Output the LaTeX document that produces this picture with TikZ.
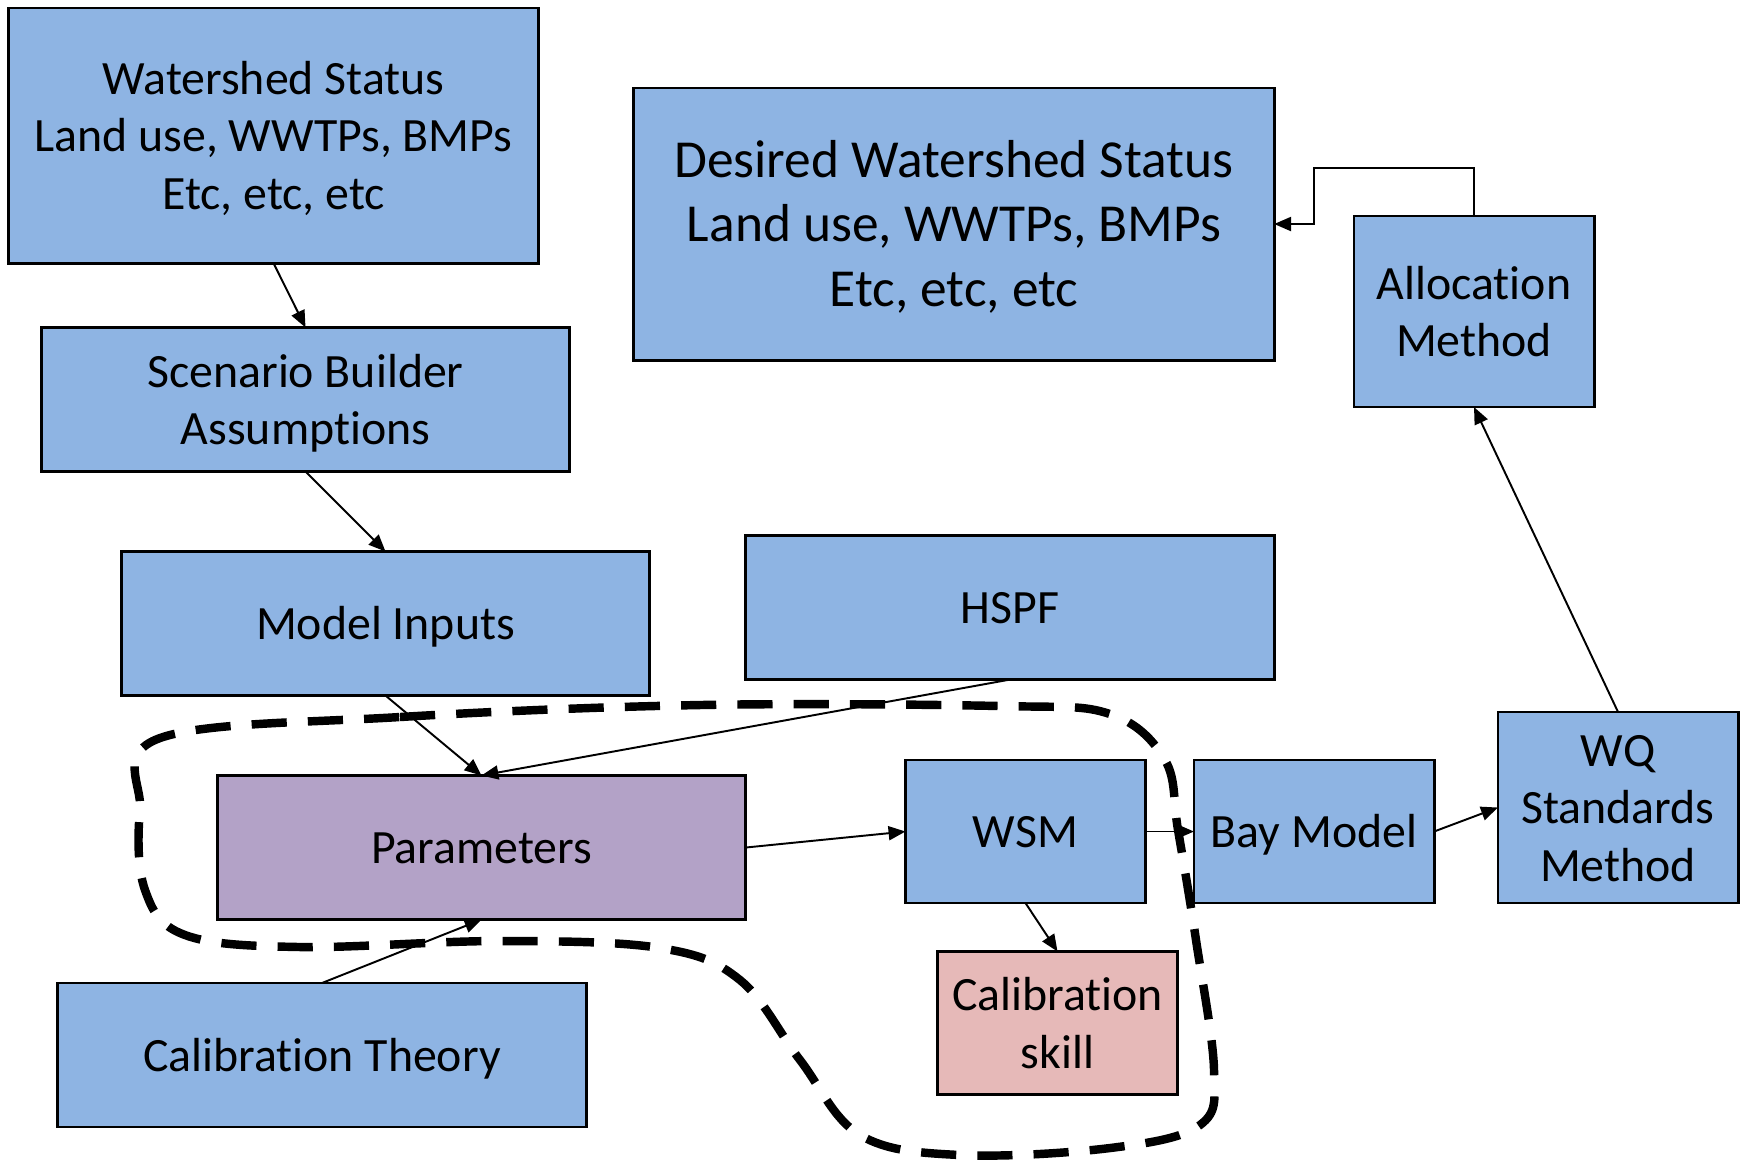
\documentclass[tikz,border=0pt]{standalone}
\usepackage{fontspec}
\setmainfont{Carlito}[Ligatures=NoCommon]
\usetikzlibrary{arrows.meta, positioning}
\definecolor{BoxBlue}{RGB}{142,180,227}
\definecolor{ParamPurple}{RGB}{179,162,199}
\definecolor{SkillPink}{RGB}{230,185,184}

\begin{document}
\begin{tikzpicture}[x=0.01cm, y=-0.01cm,
  block/.style={draw=black, fill=BoxBlue, line width=0.8pt, inner sep=2pt,
                outer sep=0pt, font=\fontsize{13.6}{16.4}\selectfont, align=center,
                text height=13pt, text depth=3.7pt},
  twolines/.style={text height=29.4pt},
  threelines/.style={text height=45.8pt},
  wide/.style={block, minimum width=5.28cm, minimum height=1.44cm},
  small/.style={block, minimum width=2.4cm, minimum height=1.43cm},
  tall/.style={block, minimum width=2.4cm, minimum height=1.91cm},
  arr/.style={-{Triangle[length=4.8pt, width=4pt]}, line width=0.55pt},
  region/.style={line width=2.4pt, dash pattern=on 10pt off 6pt},
]
\useasboundingbox (0,0) rectangle (1740,1162);

\node[block, threelines, minimum width=5.29cm, minimum height=2.55cm] (ws) at (273.5,135.5)
  {Watershed Status\\Land use, WWTPs, BMPs\\Etc, etc, etc};
\node[wide, twolines] (scen) at (305.5,399.5) {Scenario Builder\\Assumptions};
\node[wide] (inputs) at (385.5,623.5) {Model Inputs};
\node[wide] (hspf)   at (1010,607.5)  {HSPF};
\node[block, minimum width=6.4cm, minimum height=2.72cm,
      font=\fontsize{15.2}{18.4}\selectfont, text height=51.1pt, text depth=4.1pt]
  (desired) at (954,224) {Desired Watershed Status\\Land use, WWTPs, BMPs\\Etc, etc, etc};
\node[tall, twolines] (alloc) at (1474,311.5) {Allocation\\Method};
\node[wide, fill=ParamPurple] (params) at (481.5,847.5) {Parameters};
\node[small] (wsm) at (1025.5,831.5) {WSM};
\node[small] (bay) at (1314,831.5)   {Bay Model};
\node[tall, threelines] (wq) at (1618,807.5) {WQ\\Standards\\Method};
\node[small, twolines, fill=SkillPink] (skill) at (1057.5,1023) {Calibration\\skill};
\node[wide] (theory) at (322,1055) {Calibration Theory};

\coordinate (bend) at (1314,168);

\draw[arr] (ws.south)     -- (scen.north);
\draw[arr] (scen.south)   -- (inputs.north);
\draw[arr] (inputs.south) -- (params.north);
\draw[arr] (hspf.south)   -- (params.north);
\draw[arr] (theory.north) -- (params.south);
\draw[arr] (params.east)  -- (wsm.west);
\draw[arr] (wsm.east)     -- (bay.west);
\draw[arr] (bay.east)     -- (wq.west);
\draw[arr] (wq.north)     -- (alloc.south);
\draw[arr] (wsm.south)    -- (skill.north);
\draw[arr] (alloc.north) |- (bend) |- (desired.east);

% calibration loop
\draw[region] plot[smooth cycle, tension=0.6] coordinates {
  (160,738) (400,717) (700,705) (1000,706) (1110,714) (1165,760)
  (1178,830) (1196,940) (1214,1070) (1200,1125) (1110,1148) (960,1155)
  (860,1135) (800,1060) (740,980) (660,948) (500,941) (300,947)
  (185,935) (145,890) (140,810)};
\end{tikzpicture}
\end{document}
